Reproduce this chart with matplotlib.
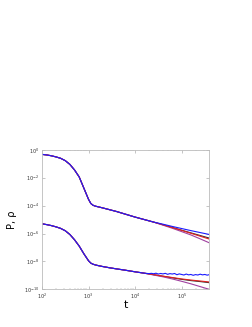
import numpy as np
import matplotlib
matplotlib.use('Agg')
import matplotlib.pyplot as plt
from matplotlib.ticker import FixedLocator, LogLocator, NullFormatter, LogFormatterMathtext

# values as log10 exponents
logt_common = [2.0, 2.1, 2.2, 2.3, 2.4, 2.5, 2.6, 2.7, 2.8, 2.9, 3.0, 3.05, 3.1,
               3.15, 3.2, 3.3, 3.45, 3.6, 3.8, 4.0, 4.2, 4.4]
logP_common = [-0.33, -0.37, -0.43, -0.51, -0.61, -0.78, -1.05, -1.45, -1.95, -2.75,
               -3.55, -3.85, -3.98, -4.04, -4.08, -4.16, -4.29, -4.42, -4.62, -4.82,
               -5.0, -5.18]
logt_tail = [4.6, 4.8, 5.0, 5.2, 5.4, 5.6]
logP_tail = {
    'blue':   [-5.33, -5.49, -5.64, -5.79, -5.93, -6.07],
    'red':    [-5.37, -5.57, -5.77, -5.98, -6.19, -6.40],
    'black':  [-5.37, -5.56, -5.76, -5.95, -6.14, -6.33],
    'purple': [-5.40, -5.62, -5.86, -6.10, -6.38, -6.67],
}

logt_rho = [2.0, 2.1, 2.2, 2.3, 2.4, 2.5, 2.6, 2.7, 2.8, 2.9, 3.0, 3.05, 3.1,
            3.15, 3.2, 3.3, 3.45, 3.6, 3.8, 4.0, 4.2]
logrho_common = [-5.30, -5.36, -5.43, -5.52, -5.63, -5.80, -6.07, -6.45, -6.90, -7.45,
                 -7.95, -8.12, -8.20, -8.25, -8.29, -8.36, -8.45, -8.53, -8.63, -8.74,
                 -8.84]
logt_rho_blue = [4.3, 4.35, 4.4, 4.45, 4.5, 4.55, 4.6, 4.65, 4.7, 4.75, 4.8, 4.85, 4.9,
                 4.95, 5.0, 5.05, 5.1, 5.15, 5.2, 5.25, 5.3, 5.35, 5.4, 5.45, 5.5, 5.55, 5.6]
logrho_blue = [-8.87, -8.85, -8.88, -8.84, -8.90, -8.86, -8.89, -8.85, -8.92, -8.87, -8.90,
               -8.86, -8.95, -8.89, -8.93, -8.97, -8.90, -8.96, -8.93, -8.99, -8.94, -8.97,
               -8.91, -8.96, -8.93, -8.98, -8.94]
logt_rho_tail = [4.4, 4.6, 4.8, 5.0, 5.2, 5.4, 5.6]
logrho_tail = {
    'red':    [-8.94, -9.05, -9.15, -9.25, -9.33, -9.40, -9.47],
    'black':  [-8.95, -9.06, -9.17, -9.28, -9.37, -9.44, -9.52],
    'purple': [-8.97, -9.10, -9.25, -9.42, -9.60, -9.80, -10.0],
}

colors = {'black': '#333333', 'purple': '#a040a0', 'red': '#e02020', 'blue': '#1a1aff'}
order = ['black', 'purple', 'red', 'blue']

fig = plt.figure(figsize=(2.53, 3.27), dpi=100)
ax = fig.add_axes([0.166, 0.115, 0.662, 0.427])

for name in order:
    lt = np.array(logt_common + logt_tail)
    lp = np.array(logP_common + logP_tail[name])
    ax.plot(10**lt, 10**lp, color=colors[name], lw=0.8)
    if name == 'blue':
        lt = np.array(logt_rho + logt_rho_blue)
        lp = np.array(logrho_common + logrho_blue)
    else:
        lt = np.array(logt_rho + logt_rho_tail)
        lp = np.array(logrho_common + logrho_tail[name])
    ax.plot(10**lt, 10**lp, color=colors[name], lw=0.8)

ax.set_xscale('log')
ax.set_yscale('log')
ax.set_xlim(1e2, 10**5.6)
ax.set_ylim(1e-10, 1e0)

ax.yaxis.set_major_locator(FixedLocator(10.0**np.arange(0, -11, -2)))
ax.yaxis.set_major_formatter(LogFormatterMathtext())
ax.yaxis.set_minor_locator(FixedLocator([]))
ax.xaxis.set_major_locator(LogLocator(base=10))
ax.xaxis.set_minor_locator(LogLocator(base=10, subs=np.arange(2, 10)))
ax.xaxis.set_minor_formatter(NullFormatter())

ax.tick_params(which='both', direction='in', top=True, right=True,
               color='#999999', labelsize=3.5, labelcolor='#333333', pad=2)
ax.tick_params(which='major', length=2, width=0.4)
ax.tick_params(which='minor', length=1, width=0.3)
for s in ax.spines.values():
    s.set_color('#bbbbbb')
    s.set_linewidth(0.6)

ax.set_xlabel('t', fontsize=8, labelpad=-1)
ax.set_ylabel('P, ρ', fontsize=7, labelpad=5)

fig.savefig('out.png', dpi=100)
